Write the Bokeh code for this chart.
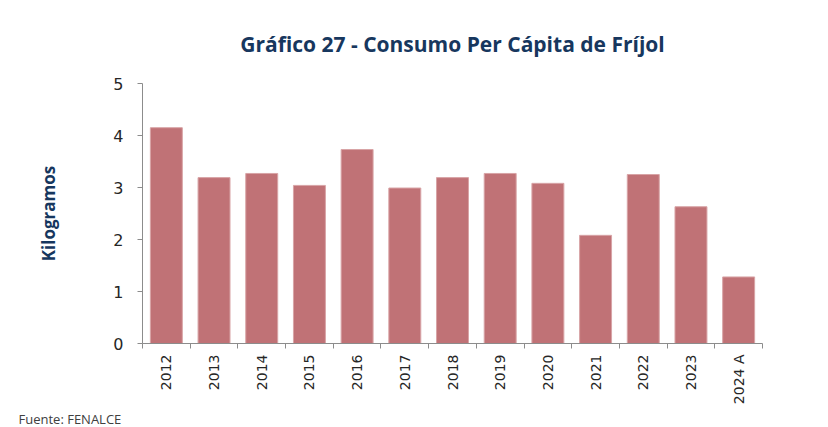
import numpy as np
from bokeh.plotting import figure
from bokeh.models import FixedTicker, Range1d, Title
from bokeh.embed import file_html
from bokeh.resources import INLINE

# Data
years = ["2012", "2013", "2014", "2015", "2016", "2017", "2018", "2019",
         "2020", "2021", "2022", "2023", "2024 A"]
consumo_kg = [4.15, 3.19, 3.27, 3.04, 3.73, 2.99, 3.19, 3.27, 3.08, 2.08,
              3.25, 2.63, 1.28]
y_ticks = [0, 1, 2, 3, 4, 5]

title_text = "Gráfico 27 - Consumo Per Cápita de Fríjol"
y_label = "Kilogramos"
source_text = "Fuente: FENALCE"

NAVY = "#17375E"
BAR = "#C07276"
AXIS = "#8C8C8C"
TICKTXT = "#262626"

n = len(years)
idx = np.arange(n)

W, H = 828, 427
p = figure(width=W, height=H, output_backend="svg", toolbar_location=None,
           x_range=Range1d(-0.5, n - 0.5), y_range=Range1d(0, 5),
           min_border_left=142, min_border_right=66,
           min_border_top=83, min_border_bottom=78)

p.vbar(x=idx, top=consumo_kg, width=0.67, fill_color=BAR,
       line_color="#D8A4A6", line_width=1)

# Title
p.title.text = title_text
p.title.align = "center"
p.title.text_font = "Open Sans"
p.title.text_font_style = "bold"
p.title.text_font_size = "21px"
p.title.text_color = NAVY
p.title.standoff = 52

# Axes
p.outline_line_color = None
p.xgrid.grid_line_color = None
p.ygrid.grid_line_color = None

xa = p.xaxis[0]
xa.ticker = FixedTicker(ticks=list(idx),
                        minor_ticks=[i - 0.5 for i in range(n + 1)])
xa.major_label_overrides = {int(i): years[i] for i in idx}
xa.major_label_orientation = np.pi / 2
xa.major_tick_line_color = None
xa.major_tick_out = 5
xa.major_tick_in = 0
xa.minor_tick_line_color = AXIS
xa.minor_tick_out = 5
xa.minor_tick_in = 0
xa.axis_line_color = AXIS
xa.major_label_text_font = "DejaVu Sans"
xa.major_label_text_font_size = "14px"
xa.major_label_text_color = TICKTXT
xa.major_label_standoff = 6

ya = p.yaxis[0]
ya.ticker = FixedTicker(ticks=y_ticks)
ya.minor_tick_line_color = None
ya.major_tick_line_color = AXIS
ya.major_tick_out = 5
ya.major_tick_in = 0
ya.axis_line_color = AXIS
ya.major_label_text_font = "DejaVu Sans"
ya.major_label_text_font_size = "16px"
ya.major_label_text_color = TICKTXT
ya.major_label_standoff = 14
ya.axis_label = y_label
ya.axis_label_text_font = "Open Sans"
ya.axis_label_text_font_style = "bold"
ya.axis_label_text_font_size = "17px"
ya.axis_label_text_color = NAVY
ya.axis_label_standoff = 50

# Source note as a panel title below the x axis
src = Title(text=source_text, align="left", offset=-124, standoff=0,
            text_font="Open Sans", text_font_size="13px",
            text_font_style="normal", text_color="#404040")
p.add_layout(src, "below")

open("out.html", "w").write(file_html(p, INLINE))
